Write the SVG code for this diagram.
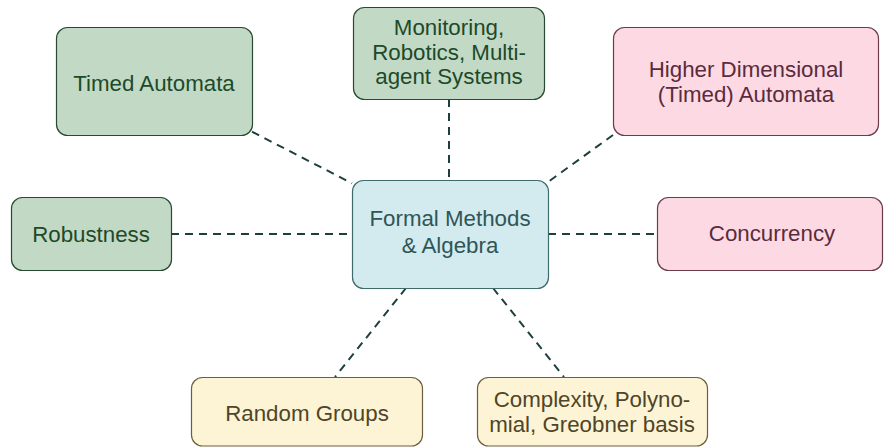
<svg xmlns="http://www.w3.org/2000/svg" width="884" height="447" viewBox="0 0 884 447">
  <style>
    .box { stroke-width: 1.2; }
    .green rect { fill: #c2d9c6; stroke: #284a30; }
    .green text { fill: #1d4a28; }
    .pink rect { fill: #fdd9e4; stroke: #6a3c4d; }
    .pink text { fill: #5a2b3c; }
    .yellow rect { fill: #fdf4d6; stroke: #6c5e3e; }
    .yellow text { fill: #4f4528; }
    .core rect { fill: #d3eaee; stroke: #3f6b6b; }
    .core text { fill: #2e5656; }
    text { font-family: "Liberation Sans", Arial, sans-serif; font-size: 22.3px; text-anchor: middle; }
    .link { stroke: #1f3f3f; stroke-width: 2; stroke-dasharray: 8 6; fill: none; }
  </style>

  <!-- dashed links from the central node to each topic -->
  <g id="connectors">
    <line class="link" x1="252" y1="131.7" x2="352" y2="183.3"/>
    <line class="link" x1="449" y1="99" x2="449" y2="180"/>
    <line class="link" x1="613" y1="135" x2="548" y2="182"/>
    <line class="link" x1="171" y1="234" x2="352" y2="234"/>
    <line class="link" x1="548" y1="234" x2="657" y2="234"/>
    <line class="link" x1="406" y1="288" x2="335" y2="377"/>
    <line class="link" x1="493" y1="288" x2="564" y2="377"/>
  </g>

  <g id="formal-methods" class="core">
    <rect class="box" x="352.5" y="180.5" width="196" height="108" rx="11"/>
    <text x="450" y="226">Formal Methods</text>
    <text x="450" y="253">&amp; Algebra</text>
  </g>

  <g id="timed-automata" class="green">
    <rect class="box" x="56.5" y="27.5" width="196" height="108" rx="11"/>
    <text x="154" y="90.5">Timed Automata</text>
  </g>

  <g id="monitoring" class="green">
    <rect class="box" x="353.5" y="7.5" width="191" height="92" rx="11"/>
    <text x="449" y="35">Monitoring,</text>
    <text x="449" y="59.5">Robotics, Multi-</text>
    <text x="449" y="84">agent Systems</text>
  </g>

  <g id="higher-dimensional" class="pink">
    <rect class="box" x="613.5" y="27.5" width="265" height="108" rx="11"/>
    <text x="746" y="77">Higher Dimensional</text>
    <text x="746" y="102">(Timed) Automata</text>
  </g>

  <g id="robustness" class="green">
    <rect class="box" x="11.5" y="197.5" width="160" height="73" rx="11"/>
    <text x="91" y="242">Robustness</text>
  </g>

  <g id="concurrency" class="pink">
    <rect class="box" x="657.5" y="197.5" width="225" height="73" rx="11"/>
    <text x="772" y="241">Concurrency</text>
  </g>

  <g id="random-groups" class="yellow">
    <rect class="box" x="191.5" y="377.5" width="231" height="68.5" rx="11"/>
    <text x="307" y="421">Random Groups</text>
  </g>

  <g id="complexity" class="yellow">
    <rect class="box" x="477.5" y="377.5" width="230" height="68.5" rx="11"/>
    <text x="592" y="407">Complexity, Polyno-</text>
    <text x="592" y="432">mial, Greobner basis</text>
  </g>
</svg>
